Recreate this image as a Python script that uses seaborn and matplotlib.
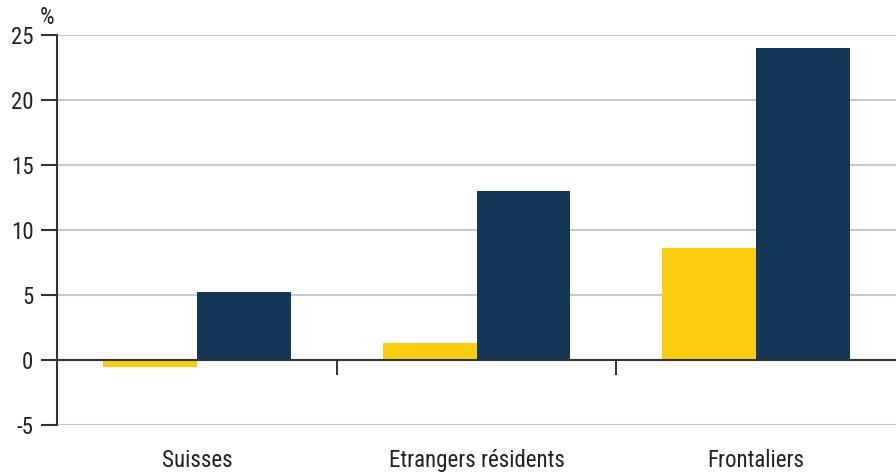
import pandas as pd
import matplotlib.pyplot as plt
import seaborn as sns

# data
categories = ["Suisses", "Etrangers résidents", "Frontaliers"]
serie_jaune = [-0.5, 1.3, 8.6]
serie_bleue = [5.2, 13.0, 24.0]
y_ticks = [-5, 0, 5, 10, 15, 20, 25]

df = pd.DataFrame({
    "categorie": categories * 2,
    "serie": ["jaune"] * 3 + ["bleue"] * 3,
    "valeur": serie_jaune + serie_bleue,
})

sns.set_style("white")
plt.rcParams["font.family"] = ["Roboto Condensed", "Liberation Sans Narrow", "Roboto", "DejaVu Sans"]
plt.rcParams["font.stretch"] = "condensed"

fig = plt.figure(figsize=(8.96, 4.73), dpi=100)
ax = fig.add_axes([57 / 896, 48 / 473, 1 - 57 / 896, 390 / 473])

sns.barplot(data=df, x="categorie", y="valeur", hue="serie",
            palette={"jaune": "#FCCD0E", "bleue": "#133857"},
            width=0.67, linewidth=0, saturation=1, legend=False, ax=ax, zorder=3)

ax.set_xlim(-0.5, 2.5)
ax.set_ylim(-5, 25)
ax.set_yticks(y_ticks)
ax.set_yticklabels([str(t) for t in y_ticks])

# grid lines
for t in y_ticks:
    if t == 0:
        continue
    ax.axhline(t, color="#c8c8c8", linewidth=1.5, zorder=1)
ax.axhline(0, color="#333333", linewidth=1.5, zorder=4)

# category separators below zero line
ax.vlines([-0.5, 0.5, 1.5], 0, -1.15, color="#222222", linewidth=1.3, zorder=4, clip_on=False)

for s in ["top", "right", "bottom"]:
    ax.spines[s].set_visible(False)
ax.spines["left"].set_color("#333333")
ax.spines["left"].set_linewidth(1.5)
ax.spines["left"].set_zorder(5)

ax.tick_params(axis="y", direction="out", length=11.5, width=1.5, color="#333333",
               labelsize=16.5, labelcolor="#222222", pad=5.5, left=True)
ax.tick_params(axis="x", length=0, labelsize=16.5, labelcolor="#222222", pad=17)
ax.set_xlabel("")
ax.set_ylabel("")

fig.text(40 / 896, 1 - 18 / 473, "%", fontsize=16.5, color="#222222",
         ha="left", va="center")

fig.savefig("out.png", dpi=100)
